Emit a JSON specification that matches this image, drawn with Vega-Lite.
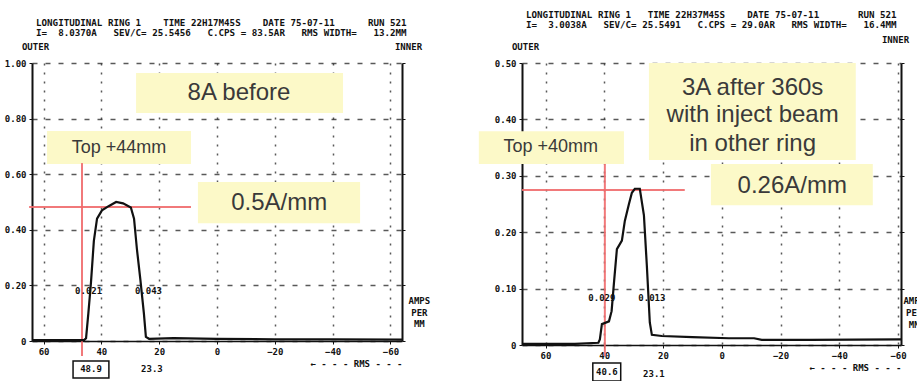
{
  "$schema": "https://vega.github.io/schema/vega-lite/v6.json",
  "padding": {"left": 4, "top": 10, "right": 0, "bottom": 0},
  "background": "white",
  "datasets": {
    "curveL": [
      {"x": 64, "y": 0.003}, {"x": 50, "y": 0.003}, {"x": 46, "y": 0.003}, {"x": 45.3, "y": 0.01},
      {"x": 44.5, "y": 0.10}, {"x": 43.6, "y": 0.21}, {"x": 42.6, "y": 0.36}, {"x": 41.5, "y": 0.44},
      {"x": 39.8, "y": 0.47}, {"x": 37.5, "y": 0.485}, {"x": 34.9, "y": 0.50}, {"x": 32.5, "y": 0.495},
      {"x": 29.8, "y": 0.48}, {"x": 28.7, "y": 0.44}, {"x": 27.7, "y": 0.33}, {"x": 26.5, "y": 0.22},
      {"x": 25.3, "y": 0.10}, {"x": 24.6, "y": 0.015}, {"x": 23.5, "y": 0.008}, {"x": 15, "y": 0.01},
      {"x": 0, "y": 0.008}, {"x": -20, "y": 0.006}, {"x": -40, "y": 0.006}, {"x": -64, "y": 0.005}
    ],
    "curveR": [
      {"x": 68, "y": 0.002}, {"x": 50, "y": 0.002}, {"x": 42, "y": 0.004}, {"x": 41.5, "y": 0.01},
      {"x": 40.8, "y": 0.037}, {"x": 38.4, "y": 0.042}, {"x": 37.5, "y": 0.06}, {"x": 36.7, "y": 0.11},
      {"x": 35.7, "y": 0.17}, {"x": 34.0, "y": 0.185}, {"x": 33.0, "y": 0.22}, {"x": 31.6, "y": 0.25},
      {"x": 30.6, "y": 0.27}, {"x": 29.6, "y": 0.277}, {"x": 27.9, "y": 0.277}, {"x": 26.5, "y": 0.23},
      {"x": 25.5, "y": 0.14}, {"x": 24.5, "y": 0.04}, {"x": 23.8, "y": 0.018}, {"x": 20.4, "y": 0.016},
      {"x": 10, "y": 0.014}, {"x": -2.4, "y": 0.012}, {"x": -11, "y": 0.012}, {"x": -13.6, "y": 0.009},
      {"x": -30, "y": 0.009}, {"x": -61, "y": 0.01}
    ],
    "boxesL": [
      {"x": 28.0, "x2": -43.6, "y": 0.964, "y2": 0.820},
      {"x": 58.8, "x2": 9.0, "y": 0.755, "y2": 0.637},
      {"x": 6.6, "x2": -49.5, "y": 0.572, "y2": 0.424}
    ],
    "boxesR": [
      {"x": 82.7, "x2": 33.3, "y": 0.379, "y2": 0.321},
      {"x": 24.8, "x2": -45.6, "y": 0.500, "y2": 0.328},
      {"x": 3.7, "x2": -51.4, "y": 0.321, "y2": 0.248}
    ],
    "redL": [
      {"x": 46.7, "x2": 46.7, "y": 0.64, "y2": -0.054},
      {"x": 65, "x2": 9.0, "y": 0.482, "y2": 0.482}
    ],
    "redR": [
      {"x": 39.8, "x2": 39.8, "y": 0.321, "y2": -0.02},
      {"x": 68, "x2": 12.6, "y": 0.275, "y2": 0.275}
    ],
    "frameL": [{"x": 49.8, "x2": 37.4, "y": -0.072, "y2": -0.133}],
    "frameR": [{"x": 43.9, "x2": 34.4, "y": -0.032, "y2": -0.064}],
    "textL": [
      {"kind": "big", "x": -7.6, "y": 0.892, "t": "8A before"},
      {"kind": "big", "x": -21.5, "y": 0.496, "t": "0.5A/mm"},
      {"kind": "mid", "x": 33.9, "y": 0.694, "t": "Top +44mm"},
      {"kind": "small", "x": 44.4, "y": 0.18, "t": "0.021"},
      {"kind": "small", "x": 23.7, "y": 0.18, "t": "0.043"},
      {"kind": "small", "x": 43.6, "y": -0.102, "t": "48.9"},
      {"kind": "small", "x": 22.5, "y": -0.102, "t": "23.3"},
      {"kind": "small", "x": -70, "y": 0.144, "t": "AMPS"},
      {"kind": "small", "x": -70, "y": 0.102, "t": "PER"},
      {"kind": "small", "x": -70, "y": 0.061, "t": "MM"}
    ],
    "textR": [
      {"kind": "big", "x": -10.5, "y": 0.455, "t": "3A after 360s"},
      {"kind": "big", "x": -10.5, "y": 0.407, "t": "with inject beam"},
      {"kind": "big", "x": -10.5, "y": 0.357, "t": "in other ring"},
      {"kind": "big", "x": -24, "y": 0.282, "t": "0.26A/mm"},
      {"kind": "mid", "x": 58.2, "y": 0.351, "t": "Top +40mm"},
      {"kind": "small", "x": 40.8, "y": 0.083, "t": "0.029"},
      {"kind": "small", "x": 23.8, "y": 0.083, "t": "0.013"},
      {"kind": "small", "x": 39.1, "y": -0.048, "t": "40.6"},
      {"kind": "small", "x": 23.1, "y": -0.051, "t": "23.1"},
      {"kind": "small", "x": -65.5, "y": 0.078, "t": "AMPS"},
      {"kind": "small", "x": -65.5, "y": 0.057, "t": "PER"},
      {"kind": "small", "x": -65.5, "y": 0.036, "t": "MM"}
    ]
  },
  "hconcat": [
    {
      "width": 370,
      "height": 278,
      "title": {
        "text": ["LONGITUDINAL\u00a0RING\u00a01\u00a0\u00a0\u00a0\u00a0TIME\u00a022H17M45S\u00a0\u00a0\u00a0\u00a0DATE\u00a075-07-11\u00a0\u00a0\u00a0\u00a0\u00a0\u00a0RUN\u00a0521", "I=\u00a0\u00a08.0370A\u00a0\u00a0\u00a0SEV/C=\u00a025.5456\u00a0\u00a0\u00a0C.CPS\u00a0=\u00a083.5AR\u00a0\u00a0\u00a0RMS\u00a0WIDTH=\u00a0\u00a0\u00a013.2MM"],
        "anchor": "start", "frame": "group", "dx": 4, "offset": 4,
        "font": "DejaVu Sans Mono", "fontSize": 9.2, "fontWeight": "bold", "color": "#111", "lineHeight": 10
      },
      "resolve": {"axis": {"y": "independent"}},
      "layer": [
        {
          "data": {"name": "boxesL"},
          "mark": {"type": "rect", "fill": "#fcf9c8"},
          "encoding": {
            "x": {"field": "x", "type": "quantitative", "scale": {"domain": [64, -64], "nice": false, "zero": false},
                  "axis": {"values": [60, 40, 20, 0, -20, -40, -60], "title": "← - - - RMS - - -"}},
            "x2": {"field": "x2"},
            "y": {"field": "y", "type": "quantitative", "scale": {"domain": [0, 1], "nice": false},
                  "axis": {"values": [0, 0.2, 0.4, 0.6, 0.8, 1.0], "title": "OUTER",
                           "labelExpr": "datum.value == 0 ? '0' : format(datum.value, '.2f')"}},
            "y2": {"field": "y2"}
          }
        },
        {
          "data": {"name": "frameL"},
          "mark": {"type": "rect", "fill": null, "stroke": "#111", "strokeWidth": 1.5},
          "encoding": {
            "x": {"field": "x", "type": "quantitative"}, "x2": {"field": "x2"},
            "y": {"field": "y", "type": "quantitative", "axis": null}, "y2": {"field": "y2"}
          }
        },
        {
          "data": {"name": "redL"},
          "mark": {"type": "rule", "color": "#f06a6c", "strokeWidth": 2, "opacity": 0.9},
          "encoding": {
            "x": {"field": "x", "type": "quantitative"}, "x2": {"field": "x2"},
            "y": {"field": "y", "type": "quantitative", "axis": null}, "y2": {"field": "y2"}
          }
        },
        {
          "data": {"name": "curveL"},
          "mark": {"type": "line", "color": "#111", "strokeWidth": 2.2},
          "encoding": {
            "x": {"field": "x", "type": "quantitative", "sort": null},
            "y": {"field": "y", "type": "quantitative",
                  "axis": {"orient": "right", "labels": false, "grid": false, "title": "INNER",
                           "values": [0, 0.2, 0.4, 0.6, 0.8, 1.0], "titleX": 6, "titleY": -17, "titleAlign": "center"}}
          }
        },
        {
          "data": {"name": "textL"},
          "transform": [{"filter": "datum.kind == 'big'"}],
          "mark": {"type": "text", "font": "Liberation Sans", "fontSize": 24, "color": "#3a3a3a", "align": "center", "baseline": "middle"},
          "encoding": {
            "x": {"field": "x", "type": "quantitative"},
            "y": {"field": "y", "type": "quantitative", "axis": null},
            "text": {"field": "t"}
          }
        },
        {
          "data": {"name": "textL"},
          "transform": [{"filter": "datum.kind == 'mid'"}],
          "mark": {"type": "text", "font": "Liberation Sans", "fontSize": 18, "color": "#3a3a3a", "align": "center", "baseline": "middle"},
          "encoding": {
            "x": {"field": "x", "type": "quantitative"},
            "y": {"field": "y", "type": "quantitative", "axis": null},
            "text": {"field": "t"}
          }
        },
        {
          "data": {"name": "textL"},
          "transform": [{"filter": "datum.kind == 'small'"}],
          "mark": {"type": "text", "font": "DejaVu Sans Mono", "fontSize": 9, "fontWeight": "bold", "color": "#111", "align": "center", "baseline": "middle"},
          "encoding": {
            "x": {"field": "x", "type": "quantitative"},
            "y": {"field": "y", "type": "quantitative", "axis": null},
            "text": {"field": "t"}
          }
        }
      ]
    },
    {
      "width": 379,
      "height": 282,
      "title": {
        "text": ["LONGITUDINAL\u00a0RING\u00a01\u00a0\u00a0\u00a0TIME\u00a022H37M45S\u00a0\u00a0\u00a0\u00a0DATE\u00a075-07-11\u00a0\u00a0\u00a0\u00a0\u00a0\u00a0\u00a0RUN\u00a0521", "I=\u00a0\u00a03.0038A\u00a0\u00a0\u00a0SEV/C=\u00a025.5491\u00a0\u00a0\u00a0C.CPS\u00a0=\u00a029.0AR\u00a0\u00a0\u00a0RMS\u00a0WIDTH=\u00a0\u00a0\u00a016.4MM"],
        "anchor": "start", "frame": "group", "dx": 4, "offset": 5,
        "font": "DejaVu Sans Mono", "fontSize": 9.2, "fontWeight": "bold", "color": "#111", "lineHeight": 10
      },
      "resolve": {"axis": {"y": "independent"}},
      "layer": [
        {
          "data": {"name": "boxesR"},
          "mark": {"type": "rect", "fill": "#fcf9c8"},
          "encoding": {
            "x": {"field": "x", "type": "quantitative", "scale": {"domain": [68, -61], "nice": false, "zero": false},
                  "axis": {"values": [60, 40, 20, 0, -20, -40, -60], "title": "← - - - RMS - - -"}},
            "x2": {"field": "x2"},
            "y": {"field": "y", "type": "quantitative", "scale": {"domain": [0, 0.5], "nice": false},
                  "axis": {"values": [0, 0.1, 0.2, 0.3, 0.4, 0.5], "title": "OUTER",
                           "labelExpr": "datum.value == 0 ? '0' : format(datum.value, '.2f')"}},
            "y2": {"field": "y2"}
          }
        },
        {
          "data": {"name": "frameR"},
          "mark": {"type": "rect", "fill": null, "stroke": "#111", "strokeWidth": 1.5},
          "encoding": {
            "x": {"field": "x", "type": "quantitative"}, "x2": {"field": "x2"},
            "y": {"field": "y", "type": "quantitative", "axis": null}, "y2": {"field": "y2"}
          }
        },
        {
          "data": {"name": "redR"},
          "mark": {"type": "rule", "color": "#f06a6c", "strokeWidth": 2, "opacity": 0.9},
          "encoding": {
            "x": {"field": "x", "type": "quantitative"}, "x2": {"field": "x2"},
            "y": {"field": "y", "type": "quantitative", "axis": null}, "y2": {"field": "y2"}
          }
        },
        {
          "data": {"name": "curveR"},
          "mark": {"type": "line", "color": "#111", "strokeWidth": 2.2},
          "encoding": {
            "x": {"field": "x", "type": "quantitative", "sort": null},
            "y": {"field": "y", "type": "quantitative",
                  "axis": {"orient": "right", "labels": false, "grid": false, "title": "INNER",
                           "values": [0, 0.1, 0.2, 0.3, 0.4, 0.5], "titleX": -6, "titleY": -24, "titleAlign": "center"}}
          }
        },
        {
          "data": {"name": "textR"},
          "transform": [{"filter": "datum.kind == 'big'"}],
          "mark": {"type": "text", "font": "Liberation Sans", "fontSize": 24, "color": "#3a3a3a", "align": "center", "baseline": "middle"},
          "encoding": {
            "x": {"field": "x", "type": "quantitative"},
            "y": {"field": "y", "type": "quantitative", "axis": null},
            "text": {"field": "t"}
          }
        },
        {
          "data": {"name": "textR"},
          "transform": [{"filter": "datum.kind == 'mid'"}],
          "mark": {"type": "text", "font": "Liberation Sans", "fontSize": 18, "color": "#3a3a3a", "align": "center", "baseline": "middle"},
          "encoding": {
            "x": {"field": "x", "type": "quantitative"},
            "y": {"field": "y", "type": "quantitative", "axis": null},
            "text": {"field": "t"}
          }
        },
        {
          "data": {"name": "textR"},
          "transform": [{"filter": "datum.kind == 'small'"}],
          "mark": {"type": "text", "font": "DejaVu Sans Mono", "fontSize": 9, "fontWeight": "bold", "color": "#111", "align": "center", "baseline": "middle"},
          "encoding": {
            "x": {"field": "x", "type": "quantitative"},
            "y": {"field": "y", "type": "quantitative", "axis": null},
            "text": {"field": "t"}
          }
        }
      ]
    }
  ],
  "spacing": 120,
  "bounds": "flush",
  "config": {
    "view": {"stroke": null},
    "axis": {
      "grid": true, "gridColor": "#222", "gridWidth": 1.5, "gridOpacity": 0.75,
      "domainColor": "#111", "domainWidth": 2, "tickColor": "#111", "tickSize": 3,
      "labelFont": "DejaVu Sans Mono", "labelFontWeight": "bold", "labelFontSize": 9, "labelColor": "#111",
      "titleFont": "DejaVu Sans Mono", "titleFontWeight": "bold", "titleFontSize": 9, "titleColor": "#111"
    },
    "axisX": {"gridDash": [2, 7], "labelPadding": 3, "titleAnchor": "end", "titlePadding": 3, "domainWidth": 1.5},
    "axisY": {"gridDash": [5, 8], "labelPadding": 3, "titleAngle": 0, "titleX": 3, "titleY": -17, "titleAlign": "center", "titleBaseline": "middle"}
  }
}
